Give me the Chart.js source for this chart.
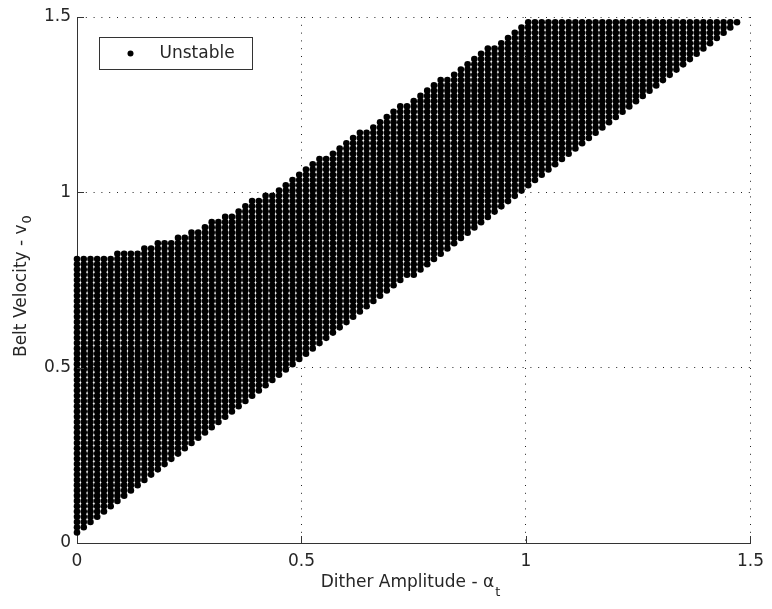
<!DOCTYPE html>
<html lang="en">
<head>
<meta charset="UTF-8" />
<title>Unstable region - belt velocity vs dither amplitude</title>
<script src="https://cdn.jsdelivr.net/npm/chart.js"></script>
<style>
  html, body { margin: 0; padding: 0; background: #fff; }
</style>
</head>
<body>
<canvas id="chart" width="772" height="609"></canvas>
<script>
// grid of simulated cases: both axes stepped in 0.015
const xStep = 0.015;
const yStep = 0.015;

// per column (x = col * xStep): lowest and highest unstable row (y = row * yStep)
const lowRow = [
  2, 3, 4, 5, 6, 7, 8, 9, 10, 11,
  12, 13, 14, 15, 16, 17, 18, 19, 20, 21,
  22, 23, 24, 25, 26, 27, 28, 29, 30, 31,
  32, 33, 34, 35, 36, 37, 38, 39, 40, 41,
  42, 43, 44, 45, 46, 47, 48, 49, 50, 51,
  51, 52, 53, 54, 55, 56, 57, 58, 59, 60,
  61, 62, 63, 64, 65, 66, 67, 68, 69, 70,
  71, 72, 73, 74, 75, 76, 77, 78, 79, 80,
  81, 82, 83, 84, 85, 86, 87, 88, 89, 90,
  91, 92, 93, 94, 95, 96, 97, 98, 99
];
const highRow = [
  54, 54, 54, 54, 54, 54, 55, 55, 55, 55,
  56, 56, 57, 57, 57, 58, 58, 59, 59, 60,
  61, 61, 62, 62, 63, 64, 65, 65, 66, 66,
  67, 68, 69, 70, 71, 72, 73, 73, 74, 75,
  76, 77, 78, 78, 79, 80, 81, 82, 83, 83,
  84, 85, 86, 87, 88, 88, 89, 90, 91, 92,
  93, 94, 94, 95, 96, 97, 98, 99, 99, 99,
  99, 99, 99, 99, 99, 99, 99, 99, 99, 99,
  99, 99, 99, 99, 99, 99, 99, 99, 99, 99,
  99, 99, 99, 99, 99, 99, 99, 99, 99
];

const xTicks = [0, 0.5, 1, 1.5];
const yTicks = [0, 0.5, 1, 1.5];
const xTickLabels = ['0', '0.5', '1', '1.5'];
const yTickLabels = ['0', '0.5', '1', '1.5'];

const points = [];
lowRow.forEach((lo, col) => {
  for (let row = lo; row <= highRow[col]; row++) {
    points.push({ x: col * xStep, y: row * yStep });
  }
});

const FONT = 'DejaVu Sans';
const INK = '#262626';
const AXIS = '#333';
const DOTS = '#222';
const MARK_R = 3.3;

// MATLAB style: ticks pointing into the axes, legend box, titles with subscripts
const matlabBits = {
  id: 'matlabBits',
  afterDraw(chart) {
    const { ctx, chartArea: a, scales: { x, y } } = chart;
    ctx.save();

    // inward ticks
    ctx.strokeStyle = AXIS;
    ctx.lineWidth = 1;
    xTicks.forEach(v => {
      const px = Math.round(x.getPixelForValue(v)) + 0.5;
      ctx.beginPath();
      ctx.moveTo(px, a.bottom);
      ctx.lineTo(px, a.bottom - 7);
      ctx.stroke();
    });
    yTicks.forEach(v => {
      const py = Math.round(y.getPixelForValue(v)) + 0.5;
      ctx.beginPath();
      ctx.moveTo(a.left, py);
      ctx.lineTo(a.left + 7, py);
      ctx.stroke();
    });

    // legend
    const lx = a.left + 22.5, ly = a.top + 20.5;
    ctx.fillStyle = '#fff';
    ctx.fillRect(lx, ly, 153, 32);
    ctx.strokeStyle = AXIS;
    ctx.strokeRect(lx, ly, 153, 32);
    ctx.fillStyle = '#000';
    ctx.beginPath();
    ctx.arc(lx + 31, ly + 16, 3, 0, Math.PI * 2);
    ctx.fill();
    ctx.fillStyle = INK;
    ctx.font = '17px "' + FONT + '"';
    ctx.textBaseline = 'middle';
    ctx.textAlign = 'left';
    ctx.fillText(chart.data.datasets[0].label, lx + 60, ly + 16);

    // x title
    ctx.textBaseline = 'alphabetic';
    const xMain = 'Dither Amplitude - α';
    const xSub = 't';
    ctx.font = '17px "' + FONT + '"';
    const wMain = ctx.measureText(xMain).width;
    ctx.font = '13px "' + FONT + '"';
    const wSub = ctx.measureText(xSub).width;
    const sx = 410 - (wMain + wSub) / 2;
    ctx.font = '17px "' + FONT + '"';
    ctx.fillText(xMain, sx, 587);
    ctx.font = '13px "' + FONT + '"';
    ctx.fillText(xSub, sx + wMain + 1, 596);

    // y title
    const yMain = 'Belt Velocity - v';
    const ySub = '0';
    ctx.translate(26, 357);
    ctx.rotate(-Math.PI / 2);
    ctx.font = '17px "' + FONT + '"';
    ctx.fillText(yMain, 0, 0);
    const wy = ctx.measureText(yMain).width;
    ctx.font = '13px "' + FONT + '"';
    ctx.fillText(ySub, wy + 1, 5);

    ctx.restore();
  }
};

const gridColor = c => (c.tick && c.tick.value === 0 ? 'rgba(0,0,0,0)' : DOTS);

new Chart(document.getElementById('chart'), {
  type: 'scatter',
  data: {
    datasets: [{
      label: 'Unstable',
      data: points,
      backgroundColor: '#000',
      borderWidth: 0,
      pointRadius: MARK_R,
      pointHoverRadius: MARK_R,
      clip: false
    }]
  },
  options: {
    responsive: false,
    animation: false,
    events: [],
    layout: { padding: { top: 17, right: 18, left: 0, bottom: 0 } },
    plugins: {
      legend: { display: false },
      tooltip: { enabled: false }
    },
    scales: {
      x: {
        type: 'linear',
        min: 0,
        max: 1.5,
        afterBuildTicks: s => { s.ticks = xTicks.map(v => ({ value: v })); },
        afterFit: s => { s.height = 66; },
        ticks: {
          font: { family: FONT, size: 17 }, color: INK, padding: 8, maxRotation: 0,
          callback: (v, i) => xTickLabels[i]
        },
        grid: { color: gridColor, lineWidth: 1, drawTicks: false },
        border: { color: AXIS, width: 1, dash: [1, 6.8] }
      },
      y: {
        type: 'linear',
        min: 0,
        max: 1.5,
        afterBuildTicks: s => { s.ticks = yTicks.map(v => ({ value: v })); },
        afterFit: s => { s.width = 77; },
        ticks: {
          font: { family: FONT, size: 17 }, color: INK, padding: 6,
          callback: (v, i) => yTickLabels[i]
        },
        grid: { color: gridColor, lineWidth: 1, drawTicks: false },
        border: { color: AXIS, width: 1, dash: [1, 6.8] }
      }
    }
  },
  plugins: [matlabBits]
});
</script>
</body>
</html>
